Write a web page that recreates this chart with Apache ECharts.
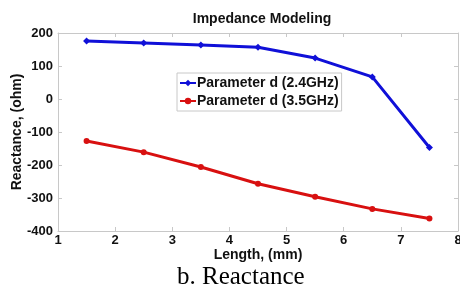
<!DOCTYPE html>
<html>
<head>
<meta charset="utf-8">
<script src="https://cdn.jsdelivr.net/npm/echarts@6/dist/echarts.min.js"></script>
<style>
  html, body { margin: 0; padding: 0; background: #fff; }
  #chart { width: 460px; height: 291px; }
</style>
</head>
<body>
<div id="chart"></div>
<script>
// length (mm)
var lengths = [1.5, 2.5, 3.5, 4.5, 5.5, 6.5, 7.5];
// reactance (ohm)
var react24 = [176, 170, 164, 157, 124, 67, -147];
var react35 = [-127, -161, -206, -257, -296, -333, -362];
var xTicks = [1, 2, 3, 4, 5, 6, 7, 8];
var yTicks = [-400, -300, -200, -100, 0, 100, 200];

var boldFont = 'Liberation Sans, Arial, sans-serif';

window.addEventListener("DOMContentLoaded", function() {
    var chart = echarts.init(document.getElementById('chart'));

    var tickStyle = { color: '#111', fontWeight: 'bold', fontSize: 13, fontFamily: boldFont };
    var nameStyle = { color: '#111', fontWeight: 'bold', fontSize: 14, fontFamily: boldFont };
    var lineSty = { color: '#c8c8c8', width: 1 };

    chart.setOption({
        animation: false,
        title: {
            text: 'Impedance Modeling',
            left: 257, top: 7, textAlign: 'center',
            textStyle: { fontSize: 14, fontWeight: 'bold', fontFamily: boldFont, color: '#111' }
        },
        legend: {
            orient: 'vertical',
            left: 177, top: 73,
            padding: [3, 3, 3, 2],
            itemGap: 4,
            itemWidth: 16, itemHeight: 8,
            borderColor: '#c8c8c8', borderWidth: 1,
            backgroundColor: '#fff',
            textStyle: { fontSize: 14, fontWeight: 'bold', fontFamily: boldFont, color: '#111', padding: [0, 0, 0, -4] },
            data: ['Parameter d (2.4GHz)', 'Parameter d (3.5GHz)']
        },
        grid: { left: 58, right: 2, top: 33, bottom: 60, outerBoundsMode: 'none', containLabel: false },
        xAxis: [{
            type: 'value', min: 1, max: 8, interval: 1,
            name: 'Length, (mm)', nameLocation: 'middle', nameGap: 17, nameMoveOverlap: false,
            nameTextStyle: nameStyle,
            axisLine: { onZero: false, lineStyle: lineSty },
            axisTick: { inside: true, length: 4, lineStyle: lineSty },
            axisLabel: Object.assign({ margin: 3 }, tickStyle),
            splitLine: { show: false }
        }, {
            type: 'value', min: 1, max: 8, interval: 1, position: 'top',
            axisLine: { show: true, onZero: false, lineStyle: lineSty },
            axisTick: { inside: true, length: 4, lineStyle: lineSty },
            axisLabel: { show: false },
            splitLine: { show: false }
        }],
        yAxis: [{
            type: 'value', min: -400, max: 200, interval: 100,
            name: 'Reactance, (ohm)', nameLocation: 'middle', nameGap: 34, nameMoveOverlap: false,
            nameTextStyle: nameStyle,
            axisLine: { show: true, onZero: false, lineStyle: lineSty },
            axisTick: { show: true, inside: true, length: 4, lineStyle: lineSty },
            axisLabel: Object.assign({ margin: 5 }, tickStyle),
            splitLine: { show: false }
        }, {
            type: 'value', min: -400, max: 200, interval: 100, position: 'right',
            axisLine: { show: true, onZero: false, lineStyle: lineSty },
            axisTick: { show: true, inside: true, length: 4, lineStyle: lineSty },
            axisLabel: { show: false },
            splitLine: { show: false }
        }],
        graphic: [{
            type: 'text', left: 177, top: 265,
            style: { text: 'b. Reactance', font: '25px "Liberation Serif", "Times New Roman", serif', fill: '#000' }
        }],
        series: [{
            name: 'Parameter d (2.4GHz)', type: 'line',
            data: lengths.map(function(x, i) { return [x, react24[i]]; }),
            symbol: 'diamond', symbolSize: 7,
            itemStyle: { color: '#1010d8' },
            lineStyle: { width: 3, color: '#1010d8' }
        }, {
            name: 'Parameter d (3.5GHz)', type: 'line',
            data: lengths.map(function(x, i) { return [x, react35[i]]; }),
            symbol: 'circle', symbolSize: 6,
            itemStyle: { color: '#d81010' },
            lineStyle: { width: 3, color: '#d81010' }
        }]
    });
});
</script>
</body>
</html>
